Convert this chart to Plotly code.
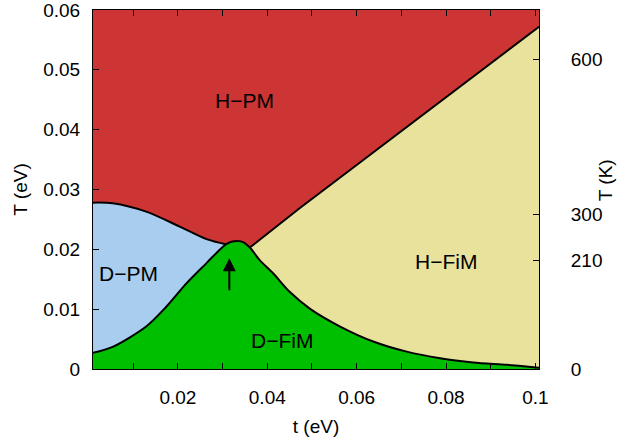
import plotly.graph_objects as go

# Boltzmann constant, eV per kelvin (right-hand temperature axis)
KB = 8.617333e-5

# D-FiM dome: ordering temperature vs. hopping t
dome_t = [0.001, 0.0054, 0.0129, 0.0174, 0.0219, 0.0264, 0.0293, 0.0309, 0.0322,
          0.0334, 0.0346, 0.0361, 0.0383, 0.0413, 0.0450, 0.0495, 0.0563, 0.0637,
          0.0712, 0.0787, 0.0861, 0.0936, 0.0996, 0.1008]
dome_T = [0.0027, 0.0037, 0.0071, 0.0104, 0.0143, 0.0177, 0.0199, 0.0209, 0.0213,
          0.0214, 0.0212, 0.0203, 0.0182, 0.0160, 0.0129, 0.0101, 0.0071, 0.0046,
          0.0029, 0.0018, 0.0011, 0.0007, 0.0003, 0.0002]

# D-PM / H-PM crossover
dpm_t = [0.001, 0.0054, 0.0129, 0.0204, 0.0264, 0.0309]
dpm_T = [0.0278, 0.0277, 0.0263, 0.0238, 0.0217, 0.0208]

# H-PM / H-FiM transition line
hpm_t = [0.0361, 0.0473, 0.060, 0.080, 0.091, 0.1008]
hpm_T = [0.0203, 0.0269, 0.0341, 0.0454, 0.0517, 0.0572]

# Phase labels
phase_names = ["H\u2212PM", "D\u2212PM", "D\u2212FiM", "H\u2212FiM"]
phase_t = [0.0350, 0.0089, 0.0433, 0.0800]
phase_T = [0.0448, 0.0160, 0.0047, 0.0180]

# Special point marked with an arrow
arrow_t = 0.0315
arrow_T = [0.0129, 0.0185]

x_ticks = [0.02, 0.04, 0.06, 0.08, 0.1]
x_labels = ["0.02", "0.04", "0.06", "0.08", "0.1"]
y_ticks = [0, 0.01, 0.02, 0.03, 0.04, 0.05, 0.06]
y_labels = ["0", "0.01", "0.02", "0.03", "0.04", "0.05", "0.06"]
k_ticks = [0, 210, 300, 600]

RED = "#cd3434"
BLUE = "#a9cdee"
YELLOW = "#e8e29c"
GREEN = "#00bf00"
FONT = "Liberation Sans, Arial, sans-serif"

fig = go.Figure()

# H-FiM region (under the H-PM line)
fig.add_trace(go.Scatter(x=hpm_t, y=hpm_T, mode="lines", fill="tozeroy",
                         fillcolor=YELLOW, line=dict(color="black", width=2),
                         showlegend=False, hoverinfo="skip"))
# D-PM region (under the crossover)
fig.add_trace(go.Scatter(x=dpm_t, y=dpm_T, mode="lines", fill="tozeroy",
                         fillcolor=BLUE,
                         line=dict(color="black", width=2, shape="spline", smoothing=0.8),
                         showlegend=False, hoverinfo="skip"))
# D-FiM dome
fig.add_trace(go.Scatter(x=dome_t, y=dome_T, mode="lines", fill="tozeroy",
                         fillcolor=GREEN,
                         line=dict(color="black", width=2, shape="spline", smoothing=0.8),
                         showlegend=False, hoverinfo="skip"))
# invisible trace that activates the kelvin axis
fig.add_trace(go.Scatter(x=[dome_t[0]], y=[0], yaxis="y2", mode="markers",
                         marker=dict(opacity=0), showlegend=False, hoverinfo="skip"))

for name, tx, ty in zip(phase_names, phase_t, phase_T):
    fig.add_annotation(x=tx, y=ty, text=name, showarrow=False,
                       font=dict(family=FONT, size=21, color="black"))

fig.add_annotation(x=arrow_t, y=arrow_T[1], ax=arrow_t, ay=arrow_T[0],
                   xref="x", yref="y", axref="x", ayref="y", text="",
                   showarrow=True, arrowhead=2, arrowsize=1.3, arrowwidth=2,
                   arrowcolor="black")

axis_font = dict(family=FONT, size=19, color="black")

# kelvin axis title, placed beside the right-hand tick labels
fig.add_annotation(x=1.148, y=0.526, xref="paper", yref="paper", text="T (K)",
                   xanchor="center", yanchor="middle",
                   textangle=-90, showarrow=False, font=axis_font)

fig.update_layout(
    width=620, height=447,
    margin=dict(l=93, r=81, t=10, b=78, autoexpand=False),
    plot_bgcolor=RED, paper_bgcolor="white",
    font=axis_font,
    xaxis=dict(range=[0.001, 0.1008], tickvals=x_ticks, ticktext=x_labels,
               ticks="inside", ticklen=6, tickwidth=1, tickcolor="black",
               minor=dict(dtick=0.01, tick0=0, ticks="inside", ticklen=3,
                          tickcolor="black"),
               showline=True, linecolor="black", linewidth=1, mirror="allticks",
               showgrid=False, zeroline=False, ticklabelstandoff=11,
               automargin=False, ticklabeloverflow="allow",
               title=dict(text="t (eV)", standoff=12, font=axis_font)),
    yaxis=dict(range=[0, 0.06], tickvals=y_ticks, ticktext=y_labels,
               ticks="inside", ticklen=6, tickwidth=1, tickcolor="black",
               showline=True, linecolor="black", linewidth=1,
               showgrid=False, zeroline=False, ticklabelstandoff=8,
               automargin=False, ticklabeloverflow="allow",
               title=dict(text="T (eV)", standoff=10, font=axis_font)),
    yaxis2=dict(range=[0, 0.06 / KB], tickvals=k_ticks, overlaying="y",
                side="right", ticks="inside", ticklen=6, tickwidth=1,
                tickcolor="black", showline=True, linecolor="black", linewidth=1,
                showgrid=False, zeroline=False, ticklabelstandoff=27,
                automargin=False, ticklabeloverflow="allow"),
)

fig.write_html("out.html")
